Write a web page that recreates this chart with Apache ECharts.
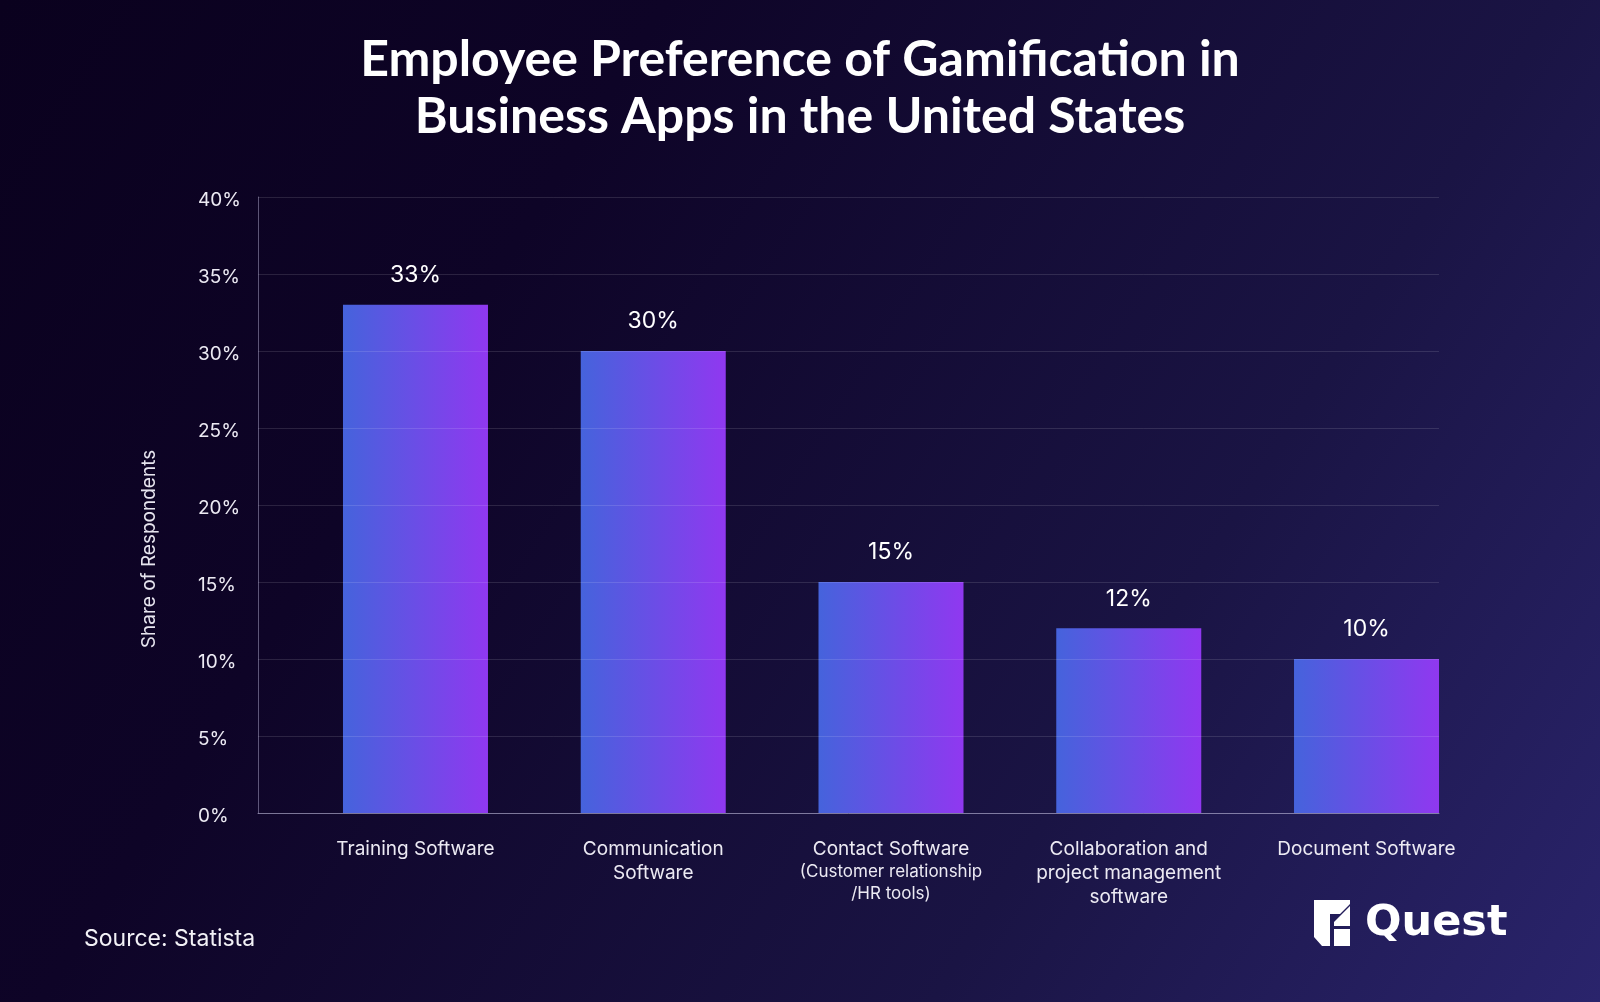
<!DOCTYPE html>
<html>
<head>
<meta charset="utf-8">
<style>
html,body{margin:0;padding:0;background:#0b0120;}
#chart{width:1600px;height:1002px;}
</style>
<script src="https://cdn.jsdelivr.net/npm/echarts@6/dist/echarts.min.js"></script>
</head>
<body>
<div id="chart"></div>
<script>
// ---- data ----
const categories = [
  'Training Software',
  'Communication\nSoftware',
  'Contact Software\n(Customer relationship\n/HR tools)',
  'Collaboration and\nproject management\nsoftware',
  'Document Software'
];
const values = [33, 30, 15, 12, 10];
const yMin = 0, yMax = 40, yStep = 5;
const titleText = 'Employee Preference of Gamification in\nBusiness Apps in the United States';
const yAxisName = 'Share of Respondents';
const sourceText = 'Source: Statista';

const FONT = 'Inter';
const chart = echarts.init(document.getElementById('chart'), null, {renderer: 'canvas'});

const option = {
  backgroundColor: 'transparent',
  animation: false,
  title: {
    text: titleText,
    left: 'center',
    top: 26,
    textStyle: {
      color: '#ffffff',
      fontFamily: 'Lato',
      fontWeight: 'bold',
      fontSize: 50,
      lineHeight: 57
    }
  },
  graphic: [
    {
      type: 'rect', z: -100, silent: true,
      shape: {x: 0, y: 0, width: 1600, height: 1002},
      style: {
        fill: new echarts.graphic.LinearGradient(0, 0, 1, 1, [
          {offset: 0, color: '#0a011e'},
          {offset: 0.3, color: '#0e0427'},
          {offset: 0.7, color: '#1a1444'},
          {offset: 1, color: '#2a246c'}
        ])
      }
    },
    {
      type: 'text', x: 149, y: 549, rotation: Math.PI / 2,
      style: {
        text: yAxisName, fill: '#e6e4ee', font: '19px ' + FONT,
        textAlign: 'center', textVerticalAlign: 'middle'
      }
    },
    {
      type: 'text', x: 84, y: 939,
      style: {
        text: sourceText, fill: '#f2f1f6', font: '23px ' + FONT,
        textAlign: 'left', textVerticalAlign: 'middle'
      }
    },
    // Quest logo icon
    {
      type: 'group',
      children: [
        {type: 'polygon', shape: {points: [[1314,900],[1350,900],[1350,904],[1340,914],[1330,914],[1330,946],[1322,946],[1314,937]]}, style: {fill: '#ffffff'}},
        {type: 'polygon', shape: {points: [[1350,906],[1350,926],[1334,926],[1334,922]]}, style: {fill: '#ffffff'}},
        {type: 'rect', shape: {x: 1334, y: 929, width: 16, height: 17}, style: {fill: '#ffffff'}}
      ]
    },
    {
      type: 'text', x: 1365, y: 924,
      style: {
        text: 'Quest', fill: '#ffffff', font: 'bold 43px "DejaVu Sans"',
        textAlign: 'left', textVerticalAlign: 'middle'
      }
    }
  ],
  grid: [
    {left: 258, right: 161, top: 197, bottom: 189, containLabel: false},
    {left: 296.6, right: 114.6, top: 197, bottom: 189, containLabel: false}
  ],
  xAxis: [
    {
      type: 'value', gridIndex: 0, min: 0, max: 1, z: 10,
      axisLine: {show: true, lineStyle: {color: 'rgba(190,186,220,0.55)', width: 1}},
      axisTick: {show: false}, axisLabel: {show: false}, splitLine: {show: false}
    },
    {
      type: 'category', gridIndex: 1, data: categories,
      axisLine: {show: false}, axisTick: {show: false}, splitLine: {show: false},
      axisLabel: {
        interval: 0, margin: 24,
        formatter: function (v, i) {
          const lines = v.split('\n');
          if (i === 2) {
            return lines.map((l, k) => (k === 0 ? '{a|' : '{b|') + l + '}').join('\n');
          }
          return lines.map(l => '{a|' + l + '}').join('\n');
        },
        rich: {
          a: {color: '#eceaf3', fontFamily: FONT, fontSize: 19, lineHeight: 24, align: 'center'},
          b: {color: '#eceaf3', fontFamily: FONT, fontSize: 17, lineHeight: 22, align: 'center'}
        }
      }
    }
  ],
  yAxis: [
    {
      type: 'value', gridIndex: 0, min: yMin, max: yMax, interval: yStep, z: 10,
      axisLine: {show: true, lineStyle: {color: 'rgba(190,186,220,0.45)', width: 1}},
      axisTick: {show: false},
      splitLine: {show: true, lineStyle: {color: 'rgba(255,255,255,0.12)', width: 1}},
      axisLabel: {
        formatter: function (v) { return '{t|' + v + '%}'; },
        align: 'left', margin: 60,
        rich: {
          t: {color: '#eceaf3', fontFamily: FONT, fontSize: 19, padding: [7, 0, 0, 0]}
        }
      }
    },
    {
      type: 'value', gridIndex: 1, min: yMin, max: yMax, interval: yStep,
      show: false, splitLine: {show: false}
    }
  ],
  series: [
    {
      type: 'bar', xAxisIndex: 1, yAxisIndex: 1, data: values, barWidth: 145,
      itemStyle: {
        color: new echarts.graphic.LinearGradient(0, 0, 1, 0, [
          {offset: 0, color: '#4563dc'},
          {offset: 1, color: '#9038f0'}
        ])
      },
      label: {
        show: true, position: 'top', distance: 18,
        formatter: '{c}%', color: '#ffffff', fontFamily: FONT, fontSize: 23
      }
    }
  ]
};
chart.setOption(option);
</script>
</body>
</html>
